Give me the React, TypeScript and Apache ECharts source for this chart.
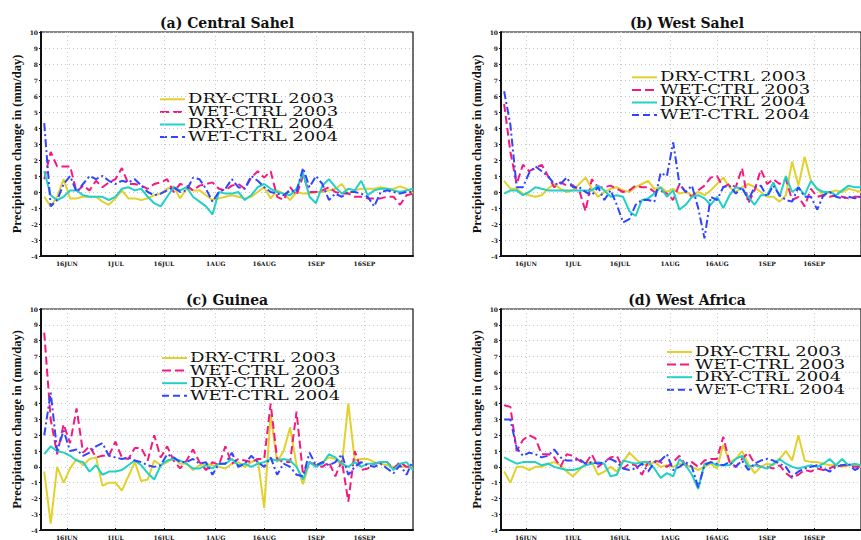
import React, { useEffect, useRef } from "react";
import * as echarts from "echarts";

// x positions: days after 8 JUN (0 = 8 JUN, 115 = 1 OCT)
const days = [1, 3, 5, 7, 9, 11, 13, 15, 17, 19, 21, 23, 25, 27, 29, 31, 33, 35, 37, 39, 41, 43, 45, 47, 49, 51, 53, 55, 57, 59, 61, 63, 65, 67, 69, 71, 73, 75, 77, 79, 81, 83, 85, 87, 89, 91, 93, 95, 97, 99, 101, 103, 105, 107, 109, 111, 113, 115];

const tickLabels = ["16JUN", "1JUL", "16JUL", "1AUG", "16AUG", "1SEP", "16SEP"];
const yTicks = { min: -4, max: 10, interval: 1 };

const seriesNames = ["DRY-CTRL 2003", "WET-CTRL 2003", "DRY-CTRL 2004", "WET-CTRL 2004"];
const panelTitles = ["(a) Central Sahel", "(b) West Sahel", "(c) Guinea", "(d) West Africa"];
const yAxisName = "Precipitation change in (mm/day)";

// (a) Central Sahel
const dryA03 = [-0.3, -0.9, -0.3, 0.8, -0.4, -0.4, -0.3, -0.3, -0.3, -0.6, -0.8, -0.4, 0.1, -0.4, -0.4, -0.5, -0.4, -0.2, -0.1, 0.2, 0.35, -0.4, 0.2, 0.1, 0.1, -0.2, -0.5, -0.4, -0.3, -0.2, -0.3, -0.4, -0.3, 0.0, 0.3, -0.4, 0.1, -0.1, -0.5, 0.0, -0.1, -0.1, 0.0, 0.0, 0.1, 0.2, 0.5, -0.1, 0.1, 0.2, 0.2, 0.2, 0.3, 0.2, 0.2, 0.35, 0.2, -0.1];
const wetA03 = [0.8, 2.5, 1.6, 1.6, 1.6, 0.0, 0.4, 0.1, 0.7, 0.3, 0.6, 0.8, 1.5, 0.5, 0.5, 0.4, 0.2, 0.5, 0.6, 0.8, 0.0, 0.5, 0.4, 0.1, 0.4, 0.5, 0.6, 0.2, 0.1, 0.4, 0.5, 0.2, 0.9, 1.3, 0.9, 1.3, -0.3, -0.5, 0.3, -0.2, 1.0, 0.0, 0.0, 0.1, 0.3, 0.0, -0.1, -0.1, -0.3, -0.3, -0.4, -0.4, -0.4, -0.3, -0.3, -0.8, -0.2, -0.1];
const dryA04 = [1.3, -0.2, -0.5, -0.3, 0.1, 0.1, -0.2, -0.3, -0.3, -0.3, -0.5, -0.3, 0.2, 0.3, 0.1, 0.2, -0.3, -0.7, -0.9, -0.3, 0.3, 0.1, 0.3, -0.3, -0.6, -0.9, -1.4, 0.0, -0.1, -0.1, 0.0, -0.5, -0.2, 0.3, 0.5, 0.2, 0.0, -0.1, -0.2, 0.2, 1.2, -0.3, -0.7, 0.4, 0.8, 0.3, -0.1, 0.2, 0.1, 0.7, -0.2, 0.1, 0.2, 0.2, 0.1, 0.0, 0.1, 0.2];
const wetA04 = [4.3, -0.9, -0.5, 0.5, 1.0, 0.0, 0.5, 1.0, 0.8, 1.0, 0.7, 0.5, 0.7, 0.6, 0.8, 0.4, 0.0, -0.2, -0.1, 0.1, 0.3, 0.0, 0.1, 0.9, 0.8, 0.2, -0.6, 0.0, 0.2, 0.8, 0.3, 0.2, 1.0, 0.7, 0.3, 0.0, -0.1, -0.2, 0.1, 0.0, 1.5, 0.3, 1.0, 0.5, -0.5, -0.1, -0.3, 0.0, 0.0, -0.1, -0.3, -0.9, 0.0, 0.1, 0.0, -0.1, 0.0, 0.0];

// (b) West Sahel
const dryB03 = [0.7, 0.2, 0.2, -0.1, -0.2, -0.3, -0.2, 0.2, 0.5, 0.2, 0.0, 0.1, 0.5, 0.9, 0.2, -0.3, 0.0, 0.2, 0.3, 0.1, 0.0, 0.3, 0.5, 0.7, 0.2, 0.3, 0.0, 0.2, -0.1, 0.0, -0.2, 0.0, -0.2, 0.1, 0.5, 0.9, 0.3, 0.0, 0.3, 0.5, 0.3, 0.0, -0.3, -0.3, -0.6, -0.2, 1.9, 0.4, 2.2, 0.7, 0.2, -0.2, 0.0, 0.1, 0.0, 0.2, 0.1, 0.0];
const wetB03 = [5.5, 2.5, 0.5, 1.7, 1.3, 1.5, 1.7, 1.0, 0.3, 0.6, 0.4, 0.4, 0.1, -1.2, 0.8, 0.3, 0.3, 0.4, 0.2, 0.0, 0.1, 0.4, 0.3, 0.3, 0.0, 0.1, -0.1, -0.5, 0.5, 0.0, -0.3, 0.1, 0.4, 0.9, 1.0, 0.3, 0.5, 0.3, 1.5, -0.7, 0.1, 1.4, 0.5, 0.8, 0.5, 0.8, -0.5, -0.3, -0.9, 0.2, -0.3, -0.2, -0.3, -0.2, -0.3, -0.4, -0.3, -0.3];
const dryB04 = [-0.1, 0.1, 0.1, -0.2, 0.0, 0.3, 0.2, 0.1, 0.1, 0.1, 0.1, 0.1, 0.1, 0.1, 0.1, 0.4, 0.1, -0.3, -0.2, -0.3, -1.2, -1.5, -0.5, -0.4, -0.1, 0.3, -0.3, 0.1, -1.1, -0.8, -0.3, -0.2, -0.4, -0.8, -0.3, -1.0, -0.2, 0.3, 0.2, -0.3, -0.8, -0.2, -0.2, 0.6, -0.3, 1.0, 0.0, 0.3, -0.2, 0.7, 0.2, 0.0, 0.0, -0.2, 0.1, 0.4, 0.3, 0.3];
const wetB04 = [6.3, 4.2, 0.3, 0.3, 1.2, 1.6, 1.3, 1.0, 0.5, 0.5, 0.9, 0.3, 0.3, 0.0, -0.2, 0.3, -0.5, 0.1, -0.8, -1.9, -1.7, -0.8, -0.5, -0.5, -0.6, 1.2, 1.0, 3.1, 0.5, 0.0, 0.4, -1.0, -2.9, -0.3, -0.5, 0.3, 0.4, -0.1, 0.3, -0.5, 0.3, 0.4, -0.3, 0.4, -0.2, -0.5, -0.6, 0.3, -0.3, -0.3, -1.1, -0.2, 0.0, -0.3, -0.4, -0.3, -0.4, -0.3];

// (c) Guinea
const dryC03 = [-0.3, -3.6, 0.0, -1.0, -0.1, 0.5, 0.1, 0.5, 0.6, -1.2, -1.0, -1.0, -1.5, -0.6, 0.3, -0.9, -0.8, 0.4, 0.1, 0.3, 0.6, 0.2, 0.2, -0.2, 0.1, 0.2, 0.1, 0.0, -0.1, 0.2, 0.3, 0.0, 0.3, 0.5, -2.6, 3.3, 0.3, 1.0, 2.5, 0.1, -1.1, 0.3, 0.1, 0.3, 0.6, 0.5, 0.1, 4.0, 0.4, 0.5, 0.5, 0.3, 0.2, 0.1, 0.0, 0.0, 0.0, -0.1];
const wetC03 = [8.5, 3.0, 0.8, 2.7, 1.5, 3.7, 0.9, 1.3, 0.6, 0.7, 0.7, 1.6, 0.6, 0.5, 1.2, 1.2, 0.4, 2.0, 0.6, 1.3, 0.4, -0.1, 0.4, 1.1, 0.3, -0.2, 0.3, 0.1, 1.3, 0.2, 0.5, 0.4, 0.3, 0.5, 0.5, 4.0, 0.5, 0.3, 0.3, 3.5, -0.5, 0.3, 0.1, 0.0, 0.3, -0.6, 0.4, -2.2, 1.0, -0.2, -0.1, 0.2, 0.3, 0.3, -0.1, 0.3, 0.0, 0.0];
const dryC04 = [0.8, 1.3, 1.0, 0.9, 0.7, 0.4, 0.3, -0.3, 0.1, -0.5, -0.3, -0.3, -0.2, 0.1, 0.4, 0.1, -0.4, -0.8, 0.1, 0.4, 0.5, 0.4, 0.2, -0.1, -0.1, 0.1, -0.1, 0.2, 0.2, 0.5, 0.1, 0.2, 0.0, 0.2, 0.3, 0.5, 0.4, 0.5, 0.4, 0.0, -0.8, 0.3, 0.0, 0.2, 0.8, 0.6, 0.2, 0.0, 0.3, 0.0, 0.2, 0.2, 0.3, 0.3, -0.2, 0.2, 0.3, -0.2];
const wetC04 = [2.0, 4.7, 1.0, 2.3, 1.0, 1.1, 0.7, 0.9, 1.3, 1.5, 0.7, 0.6, 0.5, 0.6, 0.4, 0.3, 0.1, 0.0, 0.1, 0.8, 0.6, 0.3, 0.3, 0.5, 0.2, 0.3, -0.5, 0.2, 0.2, 0.9, 0.0, 0.2, 0.7, 0.3, 0.0, 0.6, -0.5, 0.2, 0.0, -0.5, -0.6, 0.9, 0.1, 0.3, 0.1, 0.3, 0.8, -0.5, 0.0, 0.3, 0.1, 0.0, 0.2, -0.1, -0.4, 0.1, -0.5, 0.4];

// (d) West Africa
const dryD03 = [-0.3, -1.0, 0.0, 0.0, -0.2, 0.0, 0.0, 0.2, 0.3, 0.1, -0.3, -0.6, -0.2, 0.2, 0.3, -0.5, -0.3, 0.0, -0.3, 0.3, 0.9, 0.5, 0.2, 0.1, 0.3, 0.0, 0.1, 0.0, 0.2, 0.1, 0.0, -0.2, 0.0, 0.2, -0.1, 1.4, 0.3, 0.5, 1.0, 0.2, -0.4, 0.0, 0.2, 0.1, 0.5, 1.0, 0.4, 2.0, 0.4, 0.3, 0.3, 0.2, 0.1, 0.1, 0.0, 0.1, 0.1, 0.0];
const wetD03 = [3.9, 3.8, 1.0, 1.7, 2.0, 1.8, 0.8, 0.8, 0.6, 0.0, 0.8, 0.7, 0.4, 0.2, 0.8, 0.0, 0.3, 0.6, 0.7, -0.1, 0.2, 0.1, -0.5, 0.3, 0.4, 0.3, 0.0, 0.3, 0.7, 0.1, 0.3, 0.0, 0.4, 0.5, 0.5, 1.9, 0.3, 0.0, 0.5, 0.9, 0.2, 0.0, 0.0, -0.1, 0.1, -0.4, -0.7, -0.5, -0.2, -0.3, -0.1, -0.2, -0.1, 0.1, 0.1, 0.1, 0.0, 0.0];
const dryD04 = [0.6, 0.4, 0.2, 0.3, 0.3, 0.3, 0.1, 0.2, 0.0, -0.1, -0.2, -0.2, -0.1, 0.1, 0.2, 0.3, 0.2, -0.6, -0.5, 0.4, 0.3, 0.2, 0.3, 0.3, -0.1, -0.7, -0.4, -0.6, 0.5, 0.1, -0.5, -1.4, 0.2, 0.3, 0.1, 0.1, 0.1, 0.5, 0.7, 0.0, 0.1, 0.0, -0.1, 0.2, 0.5, 0.2, 0.0, -0.1, 0.0, 0.1, 0.0, 0.2, 0.5, 0.1, 0.5, 0.1, 0.2, 0.1];
const wetD04 = [3.0, 3.0, 1.2, 0.7, 0.9, 0.8, 0.6, 0.7, 1.1, 0.6, 0.4, 0.4, 0.5, 0.2, 0.3, 0.2, 0.3, 0.5, 0.3, -0.1, -0.2, -0.1, 0.2, -0.3, 0.3, 0.4, 0.8, -0.2, 0.0, 0.3, 0.0, -1.3, 0.1, 0.3, 0.2, 0.1, 0.3, 0.0, 0.4, -0.2, 0.2, 0.4, 0.5, 0.4, 0.2, 0.0, -0.6, -0.3, -0.1, 0.0, 0.1, -0.1, -0.3, 0.0, 0.1, 0.2, -0.2, 0.0];

const panelData = [
  [dryA03, wetA03, dryA04, wetA04],
  [dryB03, wetB03, dryB04, wetB04],
  [dryC03, wetC03, dryC04, wetC04],
  [dryD03, wetD03, dryD04, wetD04],
];

const seriesColors = ["#e2d12d", "#f5197f", "#22d0c6", "#2f45ff"];
const seriesDash: any[] = ["solid", [8, 4], "solid", [8, 3, 2, 3]];
const legendDash: any[] = [null, [9, 4], null, [7, 4]];

const layout = [
  { left: 41, top: 32, legendLeft: 160, legendTop: 99.3, titleTop: 16 },
  { left: 501, top: 32, legendLeft: 632, legendTop: 77.3, titleTop: 16 },
  { left: 41, top: 309, legendLeft: 162, legendTop: 358, titleTop: 293 },
  { left: 501, top: 309, legendLeft: 667, legendTop: 352, titleTop: 293 },
];
const plotW = 372;
const plotH = 224;
const legendRow = 12.6;

const MON = ["JAN", "FEB", "MAR", "APR", "MAY", "JUN", "JUL", "AUG", "SEP", "OCT", "NOV", "DEC"];
const categories: string[] = [];
for (let i = 0; i <= 115; i++) {
  const dt = new Date(Date.UTC(2003, 5, 8 + i));
  categories.push(`${dt.getUTCDate()}${MON[dt.getUTCMonth()]}`);
}
const isTick = (_i: number, v: string) => tickLabels.includes(v);

function buildOption() {
  const grid: any[] = [];
  const xAxis: any[] = [];
  const yAxis: any[] = [];
  const title: any[] = [];
  const graphic: any[] = [];
  const series: any[] = [];
  layout.forEach((p, k) => {
    grid.push({ left: p.left, top: p.top, width: plotW, height: plotH, show: true, borderColor: "#111", borderWidth: 1.2, backgroundColor: "#fff" });
    xAxis.push({
      type: "category", gridIndex: k, data: categories, boundaryGap: false,
      axisLine: { show: true, onZero: false, lineStyle: { color: "#111", width: 2 } },
      axisTick: { show: true, interval: isTick, length: 2, inside: true, lineStyle: { color: "#111" } },
      axisLabel: { interval: isTick, fontSize: 6, fontWeight: "bold", fontFamily: "DejaVu Serif", color: "#111", margin: 4 },
      splitLine: { show: true, interval: isTick, lineStyle: { color: "#c8c8c8", type: [1, 3], width: 1 } },
    });
    yAxis.push({
      type: "value", gridIndex: k, min: yTicks.min, max: yTicks.max, interval: yTicks.interval,
      name: yAxisName, nameLocation: "middle", nameGap: 18,
      nameTextStyle: { fontFamily: "Liberation Serif", fontWeight: "bold", fontSize: 12.5, color: "#111" },
      axisLine: { show: true, lineStyle: { color: "#111", width: 2 } },
      axisTick: { show: true, length: 2, lineStyle: { color: "#111" } },
      axisLabel: { fontSize: 6, fontWeight: "bold", fontFamily: "DejaVu Serif", color: "#111", margin: 3 },
      splitLine: { show: true, lineStyle: { color: "#c8c8c8", type: [1, 3], width: 1 } },
    });
    title.push({
      text: panelTitles[k], left: p.left + plotW / 2, top: p.titleTop, textAlign: "center", padding: 0,
      textStyle: { fontFamily: "DejaVu Serif", fontWeight: "bold", fontSize: 14, color: "#111" },
    });
    const children: any[] = [];
    seriesNames.forEach((name, j) => {
      const y = j * legendRow;
      children.push({
        type: "line", shape: { x1: 0, y1: y, x2: 25, y2: y },
        style: { stroke: seriesColors[j], lineWidth: 2, lineDash: legendDash[j] },
      });
      children.push({
        type: "text", x: 28, y, scaleX: 1.5,
        style: { text: name, fill: "#111", fontFamily: "DejaVu Serif", fontSize: 12, verticalAlign: "middle", align: "left" },
      });
    });
    graphic.push({ type: "group", x: p.legendLeft, y: p.legendTop, z: 100, children });
    seriesNames.forEach((name, j) => {
      series.push({
        type: "line", name, xAxisIndex: k, yAxisIndex: k, symbol: "none", showSymbol: false,
        data: days.map((d, i) => [d, panelData[k][j][i]]),
        lineStyle: { color: seriesColors[j], width: 2, type: seriesDash[j] },
        itemStyle: { color: seriesColors[j] },
        z: 2 + j,
      });
    });
  });
  return { animation: false, backgroundColor: "#fff", grid, xAxis, yAxis, title, graphic, series };
}

export default function App() {
  const ref = useRef<HTMLDivElement>(null);
  useEffect(() => {
    if (!ref.current) return;
    const chart = echarts.init(ref.current, undefined, { renderer: "svg" });
    chart.setOption(buildOption() as any);
    return () => chart.dispose();
  }, []);
  return <div ref={ref} style={{ position: "absolute", left: 0, top: 0, width: 861, height: 540, background: "#fff" }} />;
}
